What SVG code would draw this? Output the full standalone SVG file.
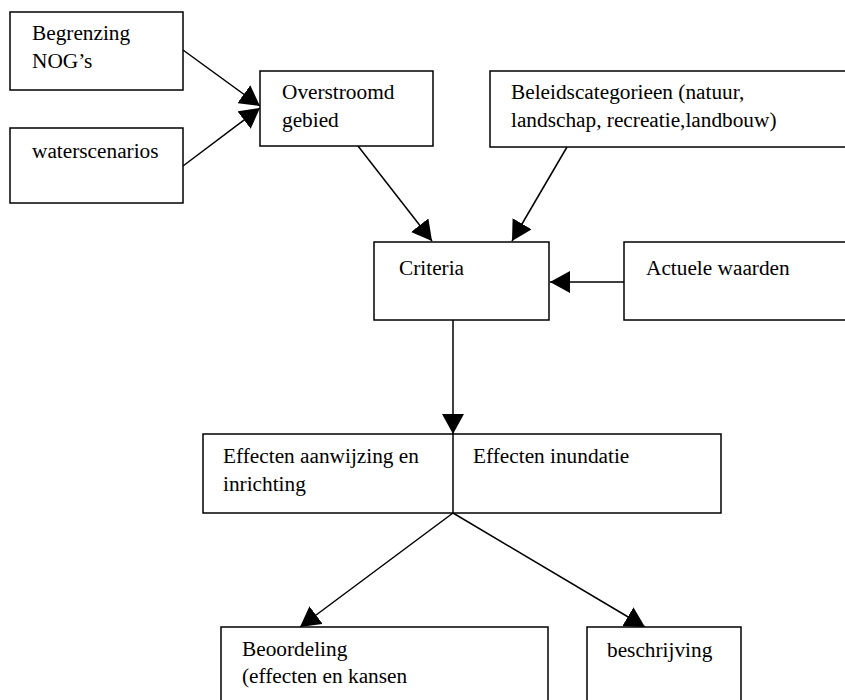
<svg xmlns="http://www.w3.org/2000/svg" width="845" height="700" viewBox="0 0 845 700">
<style>
.box{fill:#fff;stroke:#000;stroke-width:1.5}
text{font-family:'Liberation Serif','Times New Roman',Times,serif;font-size:21.3px;fill:#000}
.c{stroke:#000;stroke-width:1.5;fill:none;marker-end:url(#ah)}
</style>
<defs>
<marker id="ah" markerUnits="userSpaceOnUse" markerWidth="20" markerHeight="22" refX="20" refY="11" orient="auto">
<path d="M0,0 L20,11 L0,22 z" fill="#000"/>
</marker>
</defs>
<rect width="845" height="700" fill="#fff"/>
<g id="connectors">
<line class="c" x1="183" y1="50" x2="260" y2="106"/>
<line class="c" x1="183" y1="166" x2="260" y2="108"/>
<line class="c" x1="358" y1="146" x2="432" y2="241"/>
<line class="c" x1="567" y1="147" x2="512" y2="241"/>
<line class="c" x1="624" y1="282" x2="550" y2="282"/>
<line class="c" x1="453" y1="320" x2="453" y2="434"/>
<line class="c" x1="453" y1="513" x2="300" y2="627"/>
<line class="c" x1="453" y1="513" x2="645" y2="627"/>
</g>
<g id="begrenzing">
<rect class="box" x="10" y="12" width="173" height="78"/>
<text x="32" y="40">Begrenzing</text>
<text x="32" y="68">NOG’s</text>
</g>
<g id="waterscenarios">
<rect class="box" x="10" y="128" width="173" height="75"/>
<text x="32" y="158">waterscenarios</text>
</g>
<g id="overstroomd">
<rect class="box" x="260" y="71" width="173" height="75"/>
<text x="282" y="99">Overstroomd</text>
<text x="282" y="127">gebied</text>
</g>
<g id="beleid">
<rect class="box" x="490" y="71" width="380" height="76"/>
<text x="511" y="99">Beleidscategorieen (natuur,</text>
<text x="511" y="127">landschap, recreatie,landbouw)</text>
</g>
<g id="criteria">
<rect class="box" x="374" y="242" width="175" height="78"/>
<text x="399" y="275">Criteria</text>
</g>
<g id="actuele">
<rect class="box" x="624" y="242" width="250" height="78"/>
<text x="646" y="275">Actuele waarden</text>
</g>
<g id="effecten">
<rect class="box" x="203" y="434" width="518" height="79"/>
<line x1="453" y1="434" x2="453" y2="513" stroke="#000" stroke-width="1.5"/>
<text x="223" y="463">Effecten aanwijzing en</text>
<text x="223" y="491">inrichting</text>
<text x="473" y="463">Effecten inundatie</text>
</g>
<g id="beoordeling">
<rect class="box" x="221" y="627" width="327" height="90"/>
<text x="242" y="656">Beoordeling</text>
<text x="242" y="683">(effecten en kansen</text>
</g>
<g id="beschrijving">
<rect class="box" x="587" y="627" width="154" height="90"/>
<text x="607" y="657">beschrijving</text>
</g>
</svg>
